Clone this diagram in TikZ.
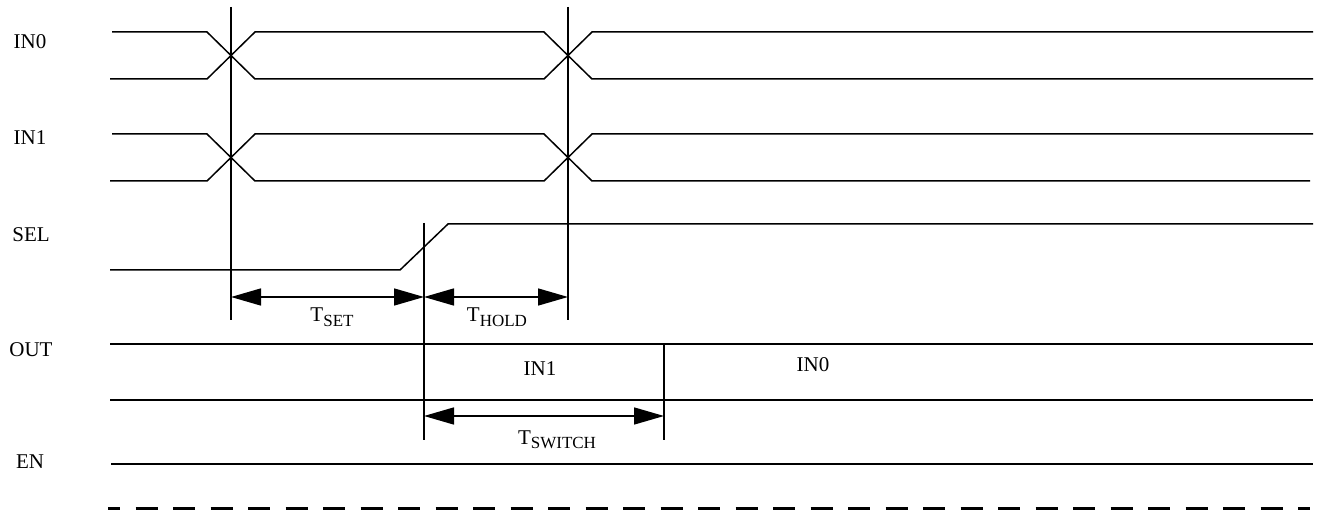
\documentclass[tikz,border=0pt]{standalone}
\usepackage{fontspec}
\setmainfont{Liberation Serif}
\usetikzlibrary{arrows.meta}
\newcommand{\Tsub}[1]{T\raisebox{-4.5pt}{\fontsize{17}{20}\selectfont #1}}

\begin{document}
\begin{tikzpicture}[x=1pt,y=-1pt,
jel/.style={line width=1.5pt},
jelolo/.style={line width=2pt},
meres/.style={{Triangle[length=30pt,width=17pt]}-{Triangle[length=30pt,width=17pt]},line width=1.5pt},
felirat/.style={font=\fontsize{21}{25}\selectfont, inner sep=0pt}]

\useasboundingbox (0,0) rectangle (1319,510);

% jelek nevei
\node[felirat](in0) at (30,42){IN0};
\node[felirat](in1) at (30,138){IN1};
\node[felirat](sel) at (31,235){SEL};
\node[felirat](out) at (31,350){OUT};
\node[felirat](en) at (30,462){EN};

% IN0
\draw[jel] (112,32)--(207,32)--(255,79)--(544,79)--(592,32)--(1313,32);
\draw[jel] (110,79)--(207,79)--(255,32)--(544,32)--(592,79)--(1313,79);

% IN1
\begin{scope}[yshift=-102pt]
\draw[jel] (112,32)--(207,32)--(255,79)--(544,79)--(592,32)--(1313,32);
\draw[jel] (110,79)--(207,79)--(255,32)--(544,32)--(592,79)--(1310,79);
\end{scope}

% SEL
\draw[jel] (110,270)--(400,270)--(448,224)--(1313,224);

% OUT
\draw[jel] (110,344)--(1313,344);
\draw[jel] (110,400)--(1313,400);
\node[felirat](out-in1) at (540,369){IN1};
\node[felirat](out-in0) at (813,365){IN0};

% EN
\draw[jel] (111,464)--(1313,464);
\draw[line width=2.5pt, dash pattern=on 22pt off 15.5pt, dash phase=10pt] (108,508.5)--(1310,508.5);

% jelolo vonalak
\coordinate (v1-fent) at (231,7);
\coordinate (v1-lent) at (231,320);
\coordinate (v2-fent) at (568,7);
\coordinate (v2-lent) at (568,320);
\coordinate (v3-fent) at (424,223);
\coordinate (v3-lent) at (424,440);
\coordinate (v4-fent) at (664,344);
\coordinate (v4-lent) at (664,440);
\draw[jelolo] (v1-fent)--(v1-lent);
\draw[jelolo] (v2-fent)--(v2-lent);
\draw[jelolo] (v3-fent)--(v3-lent);
\draw[jelolo] (v4-fent)--(v4-lent);

% idozitesek
\coordinate (set-a) at (231,297);
\coordinate (set-b) at (424,297);
\coordinate (hold-b) at (568,297);
\coordinate (sw-a) at (424,416);
\coordinate (sw-b) at (664,416);
\draw[meres] (set-a)--(set-b);
\draw[meres] (set-b)--(hold-b);
\draw[meres] (sw-a)--(sw-b);

\node[felirat](tset) at (332,317){\Tsub{SET}};
\node[felirat](thold) at (497,317){\Tsub{HOLD}};
\node[felirat](tswitch) at (557,440){\Tsub{SWITCH}};

\end{tikzpicture}
\end{document}
